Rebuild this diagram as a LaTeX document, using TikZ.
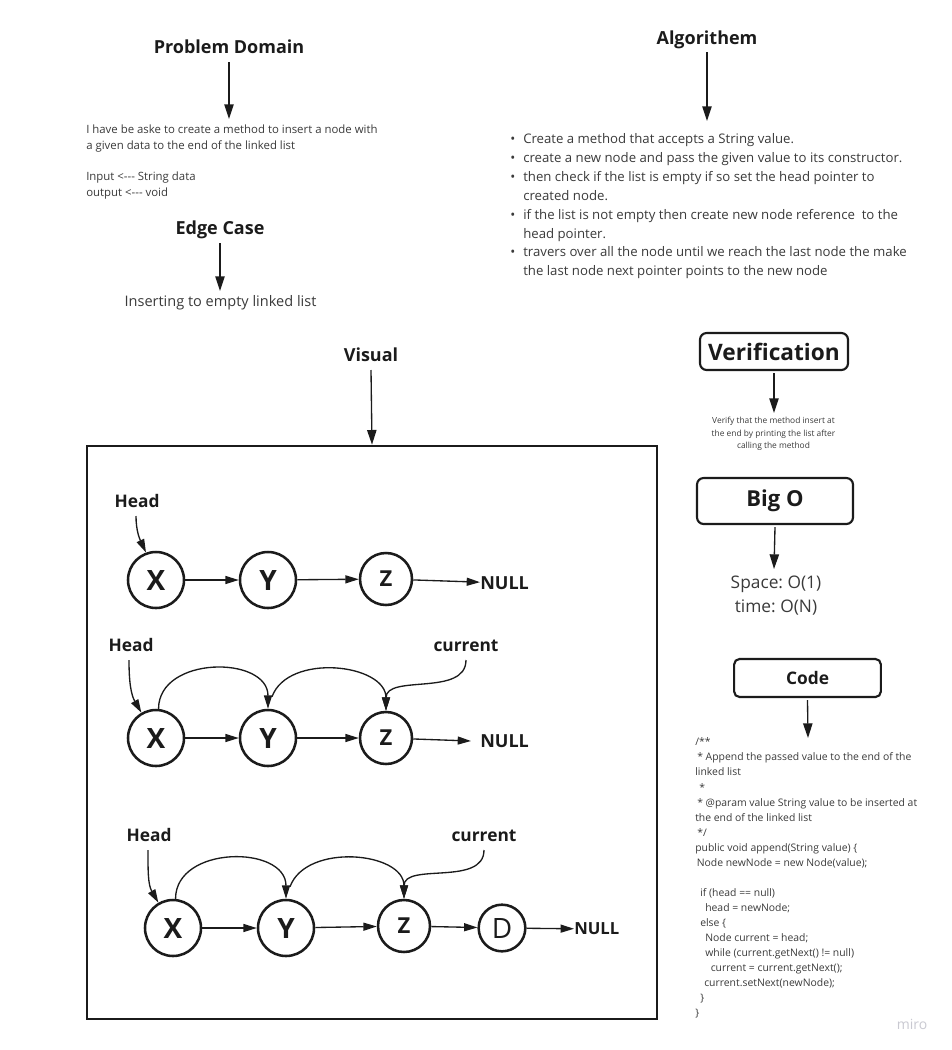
\documentclass[tikz,border=0pt]{standalone}
\usepackage{fontspec}
\setmainfont{Open Sans}
\usetikzlibrary{arrows.meta,calc}
\definecolor{ink}{HTML}{1B1B1B}
\definecolor{body}{HTML}{3A3A3A}
\definecolor{soft}{HTML}{C9C9D1}
\newcommand{\fsz}[2]{\fontsize{#1}{#2}\selectfont}
\frenchspacing

\begin{document}
\begin{tikzpicture}[x=0.75pt,y=-0.75pt,
  every node/.style={inner sep=0pt, text=ink},
  heading/.style={font=\fsz{13.5}{16}\bfseries, anchor=base},
  note/.style={font=\fsz{8.55}{12}, text=body, anchor=base west},
  bullet/.style={font=\fsz{9.9}{14}, text=body, anchor=base west},
  verif/.style={font=\fsz{6.3}{9}, text=body, anchor=base},
  code/.style={font=\fsz{7.8}{11}, text=body, anchor=base west},
  flow/.style={draw=ink, line width=1pt, -{Triangle[length=11pt,width=7pt]}},
  link/.style={draw=ink, line width=1pt, -{Triangle[length=10pt,width=6pt]}},
  tag/.style={font=\fsz{13}{15}\bfseries, anchor=base},
  box/.style={draw=ink, line width=1.6pt, rounded corners=5pt},
  cell/.style={circle, draw=ink, line width=1.9pt, minimum size=42pt, font=\fsz{21}{21}\bfseries},
  small cell/.style={cell, minimum size=39pt, font=\fsz{16.5}{17}\bfseries},
  new cell/.style={cell, minimum size=35pt, font=\fsz{21}{21}\mdseries},
  endmark/.style={font=\fsz{13.5}{15}\bfseries, anchor=west},
]
\useasboundingbox (0,0) rectangle (951,1050);

% ---------- Problem domain ----------
\node[heading] (pd) at (229,53.5) {Problem Domain};
\coordinate (pdE) at (229,119);
\draw[flow] ($(pd.base)+(0,8.5)$) -- (pdE);
\node[note] (pd1) at (86,133.5) {I have be aske to create a method to insert a node with};
\node[note] (pd2) at (86,149.5) {a given data to the end of the linked list};
\node[note] (pd3) at (86,180.5) {Input <-{}-{}- String data};
\node[note] (pd4) at (86,196.5) {output <-{}-{}- void};

% ---------- Edge case ----------
\node[heading] (ec) at (220,234.5) {Edge Case};
\coordinate (ecE) at (220,291);
\draw[flow] ($(ec.base)+(0,8.5)$) -- (ecE);
\node[font=\fsz{10.9}{13}, text=body, anchor=base] (ect) at (220.5,306) {Inserting to empty linked list};

% ---------- Algorithm ----------
\node[heading] (al) at (707,44.5) {Algorithem};
\coordinate (alE) at (707,121);
\draw[flow] ($(al.base)+(0,7.5)$) -- (alE);
\node[bullet] (b1) at (523,143.5) {\llap{•\hspace{6pt}}Create a method that accepts a String value.};
\node[bullet] (b2) at (523,162.4) {\llap{•\hspace{6pt}}create a new node and pass the given value to its constructor.};
\node[bullet] (b3) at (523,181.3) {\llap{•\hspace{6pt}}then check if the list is empty if so set the head pointer to};
\node[bullet] (b3b) at (523,200.2) {created node.};
\node[bullet] (b4) at (523,219.1) {\llap{•\hspace{6pt}}if the list is not empty then create new node reference\ \ to the};
\node[bullet] (b4b) at (523,238) {head pointer.};
\node[bullet] (b5) at (523,256.9) {\llap{•\hspace{6pt}}travers over all the node until we reach the last node the make};
\node[bullet] (b5b) at (523,275.8) {the last node next pointer points to the new node};

% ---------- Verification ----------
\node[box, minimum width=111pt, minimum height=27.75pt, font=\fsz{17}{20}\bfseries] (ver) at (774,351.5) {Verification};
\coordinate (verE) at (774,413);
\draw[flow] ($(ver.south)+(0,2)$) -- (verE);
\node[verif] (v1) at (773.5,423.5) {Verify that the method insert at};
\node[verif] (v2) at (773.5,436) {the end by printing the list after};
\node[verif] (v3) at (773.5,448.5) {calling the method};

% ---------- Big O ----------
\node[box, minimum width=117pt, minimum height=34.5pt, font=\fsz{16.5}{20}\bfseries] (bo) at (775,501) {Big O};
\coordinate (boE) at (774,569);
\draw[flow] ($(bo.south)+(0,2)$) -- (boE);
\node[font=\fsz{13}{16}, text=body, anchor=base] (sp) at (776,588) {Space: O(1)};
\node[font=\fsz{13}{16}, text=body, anchor=base] (tm) at (776,612) {time: O(N)};

% ---------- Code ----------
\node[box, rounded corners=4pt, minimum width=110pt, minimum height=28.5pt, font=\fsz{13}{15}\bfseries] (cd) at (807.5,678) {Code};
\coordinate (cdE) at (808,738);
\draw[flow] ($(cd.south)+(0,2)$) -- (cdE);
\node[code] (c0)  at (695,745.8) {/**};
\node[code] (c1)  at (697,760.9) {* Append the passed value to the end of the};
\node[code] (c2)  at (695,775.9) {linked list};
\node[code] (c3)  at (699,791) {*};
\node[code] (c4)  at (697,806) {* @param value String value to be inserted at};
\node[code] (c5)  at (695,821.1) {the end of the linked list};
\node[code] (c6)  at (697,836.2) {*/};
\node[code] (c7)  at (695,851.2) {public void append(String value) \{};
\node[code] (c8)  at (696.5,866.3) {Node newNode = new Node(value);};
\node[code] (c10) at (700,896.4) {if (head == null)};
\node[code] (c11) at (705,911.5) {head = newNode;};
\node[code] (c12) at (700,926.6) {else \{};
\node[code] (c13) at (705,941.6) {Node current = head;};
\node[code] (c14) at (705,956.7) {while (current.getNext() != null)};
\node[code] (c15) at (710.5,971.7) {current = current.getNext();};
\node[code] (c16) at (704,986.8) {current.setNext(newNode);};
\node[code] (c17) at (700,1001.9) {\}};
\node[code] (c18) at (695,1016.9) {\}};

% ---------- Visual ----------
\node[draw=ink, line width=2pt, minimum width=427.5pt, minimum height=429.75pt] (frame) at (372,732.5) {};
\node[heading] (vi) at (371,361.5) {Visual};
\draw[flow] ($(vi.base)+(0,8.5)$) -- (frame.north);

% list before traversal
\node[cell] (x1) at (156,580) {X};
\node[cell] (y1) at (268,580) {Y};
\node[small cell] (z1) at (386,579) {Z};
\node[endmark] (n1) at (480,583) {NULL};
\node[tag] (h1) at (137,507) {Head};
\draw[link] (x1) -- (y1);
\draw[link] (y1) -- (z1);
\draw[link] (z1) -- (n1);
\draw[link] ($(h1.base)+(-1,9)$) to[out=-90,in=115] (x1.110);

% walking to the last node
\node[cell] (x2) at (156,738) {X};
\node[cell] (y2) at (268,738) {Y};
\node[small cell] (z2) at (386,738) {Z};
\node[endmark] (n2) at (480,741) {NULL};
\node[tag] (h2) at (131,651) {Head};
\node[tag] (k2) at (466,651) {current};
\draw[link] (x2) -- (y2);
\draw[link] (y2) -- (z2);
\draw[link] (z2) -- ($(n2.west)+(-9,0)$);
\draw[link] ($(h2.base)+(-2,9)$) to[out=-90,in=120] (x2.120);
\draw[link] (x2.85) to[out=90,in=90,looseness=1.25] (y2.north);
\draw[link] ($(y2.north)+(4,-12)$) to[out=70,in=90,looseness=1.05] (z2.north);
\draw[link] ($(k2.base)+(0,9)$) to[out=-90,in=90] (z2.north);

% new node appended
\node[cell] (x3) at (173,928) {X};
\node[cell] (y3) at (286,928) {Y};
\node[small cell] (z3) at (404,926) {Z};
\node[new cell] (d3) at (502,928) {D};
\node[endmark, font=\fsz{12.5}{14}\bfseries] (n3) at (574,929) {NULL};
\node[tag] (h3) at (149,841) {Head};
\node[tag] (k3) at (484,841) {current};
\draw[link] (x3) -- (y3);
\draw[link] (y3) -- (z3);
\draw[link] (z3) -- (d3);
\draw[link] (d3) -- (n3);
\draw[link] ($(h3.base)+(-1,9)$) to[out=-90,in=120] (x3.120);
\draw[link] (x3.85) to[out=90,in=90,looseness=1.25] (y3.north);
\draw[link] ($(y3.north)+(4,-12)$) to[out=70,in=90,looseness=1.05] (z3.north);
\draw[link] ($(k3.base)+(0,9)$) to[out=-90,in=90] (z3.north);

% board mark
\node[font=\fsz{10.5}{12}, text=soft] (wm) at (912,1024) {miro};
\end{tikzpicture}
\end{document}
